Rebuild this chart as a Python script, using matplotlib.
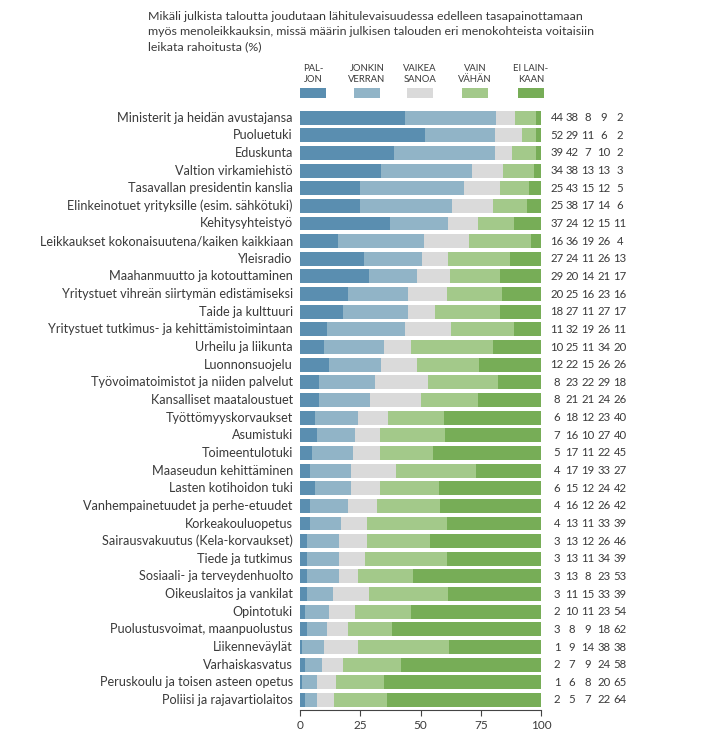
"""Julkisten menojen leikkaukset — pinottu vaakapylväskuvio (%)."""

import matplotlib
matplotlib.use("Agg")
import matplotlib.pyplot as plt
import numpy as np

plt.rcParams["font.family"] = ["Lato", "DejaVu Sans"]

TITLE = ("Mikäli julkista taloutta joudutaan lähitulevaisuudessa edelleen tasapainottamaan\n"
         "myös menoleikkauksin, missä määrin julkisen talouden eri menokohteista voitaisiin\n"
         "leikata rahoitusta (%)")

kohteet = [
    "Ministerit ja heidän avustajansa",
    "Puoluetuki",
    "Eduskunta",
    "Valtion virkamiehistö",
    "Tasavallan presidentin kanslia",
    "Elinkeinotuet yrityksille (esim. sähkötuki)",
    "Kehitysyhteistyö",
    "Leikkaukset kokonaisuutena/kaiken kaikkiaan",
    "Yleisradio",
    "Maahanmuutto ja kotouttaminen",
    "Yritystuet vihreän siirtymän edistämiseksi",
    "Taide ja kulttuuri",
    "Yritystuet tutkimus- ja kehittämistoimintaan",
    "Urheilu ja liikunta",
    "Luonnonsuojelu",
    "Työvoimatoimistot ja niiden palvelut",
    "Kansalliset maataloustuet",
    "Työttömyyskorvaukset",
    "Asumistuki",
    "Toimeentulotuki",
    "Maaseudun kehittäminen",
    "Lasten kotihoidon tuki",
    "Vanhempainetuudet ja perhe-etuudet",
    "Korkeakouluopetus",
    "Sairausvakuutus (Kela-korvaukset)",
    "Tiede ja tutkimus",
    "Sosiaali- ja terveydenhuolto",
    "Oikeuslaitos ja vankilat",
    "Opintotuki",
    "Puolustusvoimat, maanpuolustus",
    "Liikenneväylät",
    "Varhaiskasvatus",
    "Peruskoulu ja toisen asteen opetus",
    "Poliisi ja rajavartiolaitos",
]

paljon =        [44, 52, 39, 34, 25, 25, 37, 16, 27, 29, 20, 18, 11, 10, 12, 8, 8,
                 6, 7, 5, 4, 6, 4, 4, 3, 3, 3, 3, 2, 3, 1, 2, 1, 2]
jonkin_verran = [38, 29, 42, 38, 43, 38, 24, 36, 24, 20, 25, 27, 32, 25, 22, 23, 21,
                 18, 16, 17, 17, 15, 16, 13, 13, 13, 13, 11, 10, 8, 9, 7, 6, 5]
vaikea_sanoa =  [8, 11, 7, 13, 15, 17, 12, 19, 11, 14, 16, 11, 19, 11, 15, 22, 21,
                 12, 10, 11, 19, 12, 12, 11, 12, 11, 8, 15, 11, 9, 14, 9, 8, 7]
vain_vahan =    [9, 6, 10, 13, 12, 14, 15, 26, 26, 21, 23, 27, 26, 34, 26, 29, 24,
                 23, 27, 22, 33, 24, 26, 33, 26, 34, 23, 33, 23, 18, 38, 24, 20, 22]
ei_lainkaan =   [2, 2, 2, 3, 5, 6, 11, 4, 13, 17, 16, 17, 11, 20, 26, 18, 26,
                 40, 40, 45, 27, 42, 42, 39, 46, 39, 53, 39, 54, 62, 38, 58, 65, 64]

sarjat = ["PAL-\nJON", "JONKIN\nVERRAN", "VAIKEA\nSANOA", "VAIN\nVÄHÄN", "EI LAIN-\nKAAN"]
varit = ["#5a8eb0", "#91b4c7", "#dadada", "#a3c98a", "#77ad57"]
TXT = "#3a3a3a"

W, H = 720, 733
fig = plt.figure(figsize=(W / 100, H / 100), dpi=100)

# akselin paikka pikseleinä: x 0..100 -> 300..541, alareuna 710
ax = fig.add_axes([300 / W, 1 - 710 / H, 241 / W, (710 - 107) / H])

arvot = np.array([paljon, jonkin_verran, vaikea_sanoa, vain_vahan, ei_lainkaan], float)
osuus = arvot / arvot.sum(axis=0) * 100  # pylväät päättyvät sataan
y = np.arange(len(kohteet))
vasen = np.zeros(len(kohteet))
for i in range(5):
    ax.barh(y, osuus[i], left=vasen, height=0.79, color=varit[i], linewidth=0)
    vasen += osuus[i]

ax.set_xlim(0, 100)
ax.set_ylim(len(kohteet) - 1 + 0.567, -0.6)
ax.set_xticks([0, 25, 50, 75, 100])
ax.set_yticks([])
for s in ["top", "right", "left"]:
    ax.spines[s].set_visible(False)
ax.spines["bottom"].set_color("#444444")
ax.spines["bottom"].set_linewidth(0.8)
ax.tick_params(axis="x", colors="#444444", labelcolor=TXT, labelsize=8.5, length=4, width=0.8, pad=3)

# rivien nimet ja luvut
for i, nimi in enumerate(kohteet):
    ax.text(-3, i, nimi, ha="right", va="center", fontsize=9.1, color=TXT)
    for j, xp in enumerate([557, 572, 588, 604, 620]):
        xd = (xp - 300) / 241 * 100
        ax.text(xd, i, str(int(arvot[j, i])), ha="center", va="center",
                fontsize=8.2, color=TXT, clip_on=False)

# selite
for j, (nimi, vari) in enumerate(zip(sarjat, varit)):
    cx = [313, 367, 420, 475, 531][j]
    fig.text(cx / W, 1 - 74 / H, nimi, ha="center", va="center", fontsize=6.8,
             color=TXT, linespacing=1.2)
    fig.patches.append(plt.Rectangle(((cx - 13) / W, 1 - 98 / H), 26 / W, 10 / H,
                                     transform=fig.transFigure, color=vari, lw=0))

fig.text(148 / W, 1 - 11 / H, TITLE, ha="left", va="top", fontsize=8.9,
         color=TXT, linespacing=1.45)

fig.savefig("out.png", dpi=100)
